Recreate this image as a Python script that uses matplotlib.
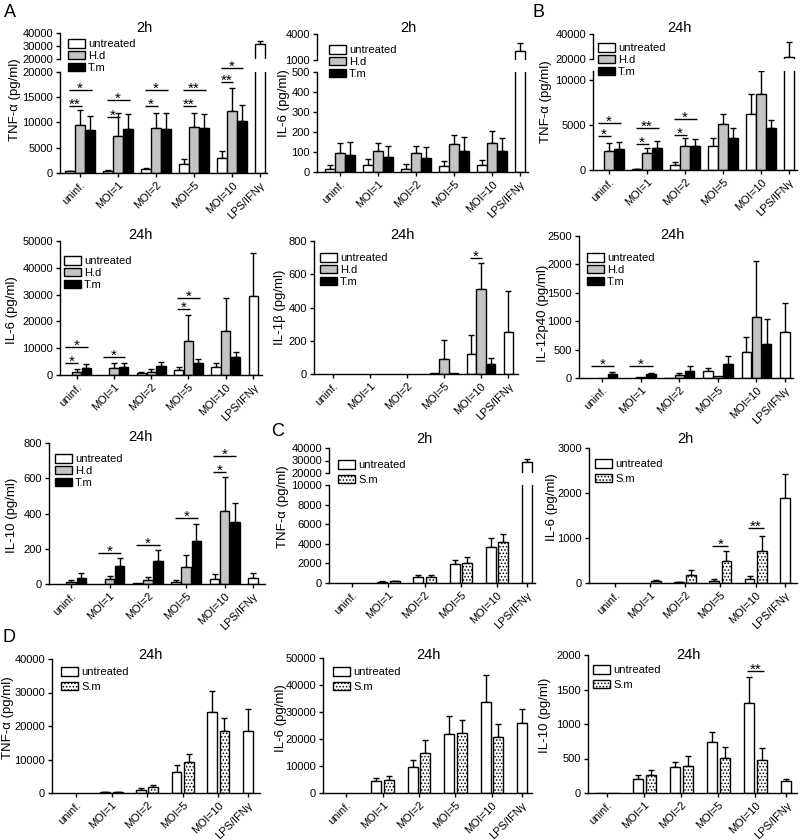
import numpy as np
import matplotlib.pyplot as plt
from matplotlib.patches import Patch

plt.rcParams.update({
    'font.family': ['Liberation Sans', 'DejaVu Sans'],
    'font.size': 8,
    'axes.linewidth': 1.0,
    'xtick.major.width': 1.0,
    'ytick.major.width': 1.0,
    'xtick.major.size': 3,
    'ytick.major.size': 3,
    'hatch.linewidth': 0.7,
})

groups = ['uninf.', 'MOI=1', 'MOI=2', 'MOI=5', 'MOI=10', 'LPS/IFNγ']

# ---- A: TNF-a 2h (H.d / T.m) ----
tnf2_unt = [300, 400, 730, 1720, 2970, 31500]
tnf2_unt_err = [100, 100, 300, 1050, 1400, 2500]
tnf2_hd = [9500, 7300, 8900, 9100, 12200]
tnf2_hd_err = [3000, 4600, 3000, 2850, 4700]
tnf2_tm = [8450, 8650, 8780, 8900, 10230]
tnf2_tm_err = [2800, 3000, 3100, 2700, 3170]
tnf2_sig = [(0, 1, 13200, '**'), (0, 2, 16400, '*'), (1, 1, 11100, '*'), (1, 2, 14500, '*'),
            (2, 1, 13200, '*'), (2, 2, 16400, '*'), (3, 1, 13200, '**'), (3, 2, 16400, '**'),
            (4, 1, 18000, '**'), (4, 2, 20700, '*')]

# ---- A: IL-6 2h ----
il6_2_unt = [15, 33, 17, 28, 33, 2050]
il6_2_unt_err = [18, 33, 23, 28, 28, 900]
il6_2_hd = [94, 106, 93, 139, 147]
il6_2_hd_err = [50, 38, 36, 46, 58]
il6_2_tm = [85, 76, 70, 103, 106]
il6_2_tm_err = [63, 56, 54, 74, 66]

# ---- B: TNF-a 24h ----
tnf24_unt = [0, 100, 560, 2670, 6190, 21600]
tnf24_unt_err = [0, 50, 290, 850, 2250, 12000]
tnf24_hd = [2110, 1850, 2700, 5110, 8440]
tnf24_hd_err = [900, 550, 890, 1110, 2560]
tnf24_tm = [2330, 2480, 2670, 3520, 4700]
tnf24_tm_err = [820, 780, 770, 1110, 860]
tnf24_sig = [(0, 1, 3780, '*'), (0, 2, 5190, '*'), (1, 1, 2850, '*'), (1, 2, 4700, '**'),
             (2, 1, 3890, '*'), (2, 2, 5670, '*')]

# ---- A: IL-6 24h ----
il6_24_unt = [0, 0, 870, 1860, 3100, 29400]
il6_24_unt_err = [0, 0, 370, 990, 1240, 16260]
il6_24_hd = [1240, 2730, 1240, 12780, 16500]
il6_24_hd_err = [1000, 1860, 870, 9550, 12400]
il6_24_tm = [2480, 3100, 3470, 4340, 6580]
il6_24_tm_err = [1500, 1500, 1490, 1620, 2110]
il6_24_sig = [(0, 1, 4340, '*'), (0, 2, 10300, '*'), (1, 2, 6820, '*'),
              (3, 1, 24570, '*'), (3, 2, 28780, '*')]

# ---- A: IL-1b 24h ----
il1b_unt = [0, 0, 0, 6, 120, 250]
il1b_unt_err = [0, 0, 0, 0, 112, 249]
il1b_hd = [0, 0, 0, 92, 513]
il1b_hd_err = [0, 0, 0, 114, 154]
il1b_tm = [0, 0, 0, 8, 60]
il1b_tm_err = [0, 0, 0, 0, 36]
il1b_sig = [(4, 1, 698, '*')]

# ---- B: IL-12p40 24h ----
il12_unt = [0, 0, 5, 117, 457, 808]
il12_unt_err = [0, 0, 0, 53, 263, 509]
il12_hd = [5, 10, 47, 35, 1071]
il12_hd_err = [0, 0, 41, 0, 990]
il12_tm = [65, 75, 129, 252, 597]
il12_tm_err = [40, 20, 76, 128, 445]
il12_sig = [(0, 2, 205, '*'), (1, 2, 205, '*')]

# ---- A: IL-10 24h ----
il10_unt = [0, 0, 3, 13, 28, 32]
il10_unt_err = [0, 0, 0, 10, 29, 32]
il10_hd = [12, 28, 23, 99, 415]
il10_hd_err = [8, 17, 19, 66, 190]
il10_tm = [36, 104, 133, 245, 353]
il10_tm_err = [25, 42, 60, 94, 108]
il10_sig = [(1, 2, 174, '*'), (2, 2, 222, '*'), (3, 2, 373, '*'), (4, 1, 635, '*'), (4, 2, 724, '*')]

# ---- C: TNF-a 2h (S.m) ----
sm_tnf2_unt = [0, 130, 610, 1900, 3700, 29000]
sm_tnf2_unt_err = [0, 60, 170, 470, 880, 2000]
sm_tnf2_sm = [0, 170, 610, 2030, 4170]
sm_tnf2_sm_err = [0, 60, 170, 580, 850]

# ---- C: IL-6 2h (S.m) ----
sm_il6_2_unt = [0, 0, 20, 52, 88, 1894]
sm_il6_2_unt_err = [0, 0, 5, 36, 59, 523]
sm_il6_2_sm = [0, 37, 184, 479, 715]
sm_il6_2_sm_err = [0, 22, 110, 236, 339]
sm_il6_2_sig = [(3, 1, 833, '*'), (4, 1, 1216, '**')]

# ---- D: TNF-a 24h (S.m) ----
sm_tnf24_unt = [0, 200, 1000, 6270, 24280, 18610]
sm_tnf24_unt_err = [0, 100, 390, 1990, 6270, 6460]
sm_tnf24_sm = [0, 200, 1790, 9250, 18610]
sm_tnf24_sm_err = [0, 100, 700, 2290, 3780]

# ---- D: IL-6 24h (S.m) ----
sm_il6_24_unt = [0, 4420, 9460, 21740, 33540, 26040]
sm_il6_24_unt_err = [0, 1110, 2580, 6880, 10070, 4920]
sm_il6_24_sm = [0, 4910, 14860, 22360, 20880]
sm_il6_24_sm_err = [0, 1230, 4800, 4790, 4550]

# ---- D: IL-10 24h (S.m) ----
sm_il10_unt = [5, 207, 376, 737, 1301, 178]
sm_il10_unt_err = [0, 58, 72, 145, 376, 29]
sm_il10_sm = [5, 255, 395, 501, 472]
sm_il10_sm_err = [0, 82, 135, 169, 174]
sm_il10_sig = [(4, 1, 1769, '**')]

STYLES = {
    'untreated': dict(facecolor='white', edgecolor='black'),
    'H.d': dict(facecolor='#c4c4c4', edgecolor='black'),
    'T.m': dict(facecolor='black', edgecolor='black'),
    'S.m': dict(facecolor='white', edgecolor='black', hatch='.....'),
}

W, H = 800, 840
fig = plt.figure(figsize=(W / 100, H / 100), dpi=100)


def px_axes(left, right, top, bottom):
    ax = fig.add_axes([left / W, 1 - bottom / H, (right - left) / W, (bottom - top) / H])
    ax.set_facecolor('none')
    for s in ('top', 'right'):
        ax.spines[s].set_visible(False)
    ax.tick_params(direction='out', labelsize=8, pad=2)
    return ax


def bar_positions(nbars, gap):
    pos, x = [], 0.0
    for g in range(len(groups)):
        n = nbars if g < len(groups) - 1 else 1
        pos.append([x + i for i in range(n)])
        x += n + gap
    return pos


def draw_bars(ax, pos, series, width):
    for k, (vals, errs, key) in enumerate(series):
        for g, (v, e) in enumerate(zip(vals, errs)):
            if v == 0:
                continue
            x = pos[g][k]
            ax.bar(x, v, width=width, linewidth=1.0, zorder=2, **STYLES[key])
            if e > 0:
                ax.errorbar(x, v, yerr=[[0], [e]], fmt='none', ecolor='black',
                            elinewidth=1.0, capsize=2.5, capthick=1.0, zorder=1)


def draw_sig(ax, pos, sig):
    for g, k, y, lab in sig:
        x0 = pos[g][0] - 0.15
        x1 = pos[g][k] + 0.15
        ax.plot([x0, x1], [y, y], color='black', lw=1.0, clip_on=False,
                solid_capstyle='butt', zorder=3)
        ax.annotate(lab, ((x0 + x1) / 2, y), xytext=(0, -2.0), textcoords='offset points',
                    ha='center', va='baseline', fontsize=11, annotation_clip=False)


def panel(box, lower, series, ylim, yticks, title, ylabel, legend_xy, nbars,
          upper=None, uylim=None, uyticks=None, sig=(), spacing=0.15):
    left, right, padl, padr = box
    gap = 0.8 if nbars == 3 else 0.9
    width = 0.95 if nbars == 3 else 0.8
    pos = bar_positions(nbars, gap)
    centers = [np.mean(p) for p in pos]
    xlim = (-padl, pos[-1][-1] + padr)

    ax = px_axes(left, right, *lower)
    draw_bars(ax, pos, series, width)
    ax.set_xlim(*xlim)
    ax.set_ylim(*ylim)
    ax.set_yticks(yticks)
    ax.set_yticklabels([str(t) for t in yticks])
    ax.set_xticks(centers)
    ax.set_xticklabels(groups, rotation=45, ha='right', rotation_mode='anchor', fontsize=8)
    draw_sig(ax, pos, sig)

    if upper is not None:
        axu = px_axes(left, right, *upper)
        draw_bars(axu, pos, series, width)
        axu.set_xlim(*xlim)
        axu.set_ylim(*uylim)
        axu.set_yticks(uyticks)
        axu.set_yticklabels([str(t) for t in uyticks])
        axu.spines['bottom'].set_visible(False)
        axu.set_xticks([])

    handles = [Patch(linewidth=1.0, **STYLES[key]) for _, _, key in series]
    labels = [key for _, _, key in series]
    ax.legend(handles, labels, loc='upper left',
              bbox_to_anchor=(legend_xy[0] / W, 1 - legend_xy[1] / H),
              bbox_transform=fig.transFigure, frameon=False, borderpad=0,
              borderaxespad=0, handlelength=1.5, handleheight=0.8,
              handletextpad=0.3, labelspacing=spacing, fontsize=8)

    fig.text(title[1] / W, 1 - title[2] / H, title[0], ha='center', va='center', fontsize=10.5)
    fig.text(ylabel[1] / W, 1 - ylabel[2] / H, ylabel[0], rotation=90,
             ha='center', va='center', fontsize=9.5)


# Row 1
panel((60, 267, 1.0, 0.7), (72, 173),
      [(tnf2_unt, tnf2_unt_err, 'untreated'), (tnf2_hd, tnf2_hd_err, 'H.d'), (tnf2_tm, tnf2_tm_err, 'T.m')],
      (0, 20000), [0, 5000, 10000, 15000, 20000], ('2h', 144, 28), ('TNF-α (pg/ml)', 15, 100),
      (68, 39), 3, upper=(33, 59), uylim=(20000, 40000), uyticks=[20000, 30000, 40000], sig=tnf2_sig)
panel((317, 528, 1.3, 0.8), (72, 172),
      [(il6_2_unt, il6_2_unt_err, 'untreated'), (il6_2_hd, il6_2_hd_err, 'H.d'), (il6_2_tm, il6_2_tm_err, 'T.m')],
      (0, 500), [0, 100, 200, 300, 400, 500], ('2h', 408, 28), ('IL-6 (pg/ml)', 284, 103),
      (329, 45), 3, upper=(34, 60), uylim=(1000, 4000), uyticks=[1000, 4000])
panel((593, 797, 0.6, 0.8), (71, 170),
      [(tnf24_unt, tnf24_unt_err, 'untreated'), (tnf24_hd, tnf24_hd_err, 'H.d'), (tnf24_tm, tnf24_tm_err, 'T.m')],
      (0, 11000), [0, 5000, 10000], ('24h', 679, 28), ('TNF-α (pg/ml)', 546, 102),
      (598, 43), 3, upper=(34, 59), uylim=(20000, 40000), uyticks=[20000, 40000], sig=tnf24_sig)

# Row 2
panel((60, 262, 0.7, 0.9), (241, 375),
      [(il6_24_unt, il6_24_unt_err, 'untreated'), (il6_24_hd, il6_24_hd_err, 'H.d'), (il6_24_tm, il6_24_tm_err, 'T.m')],
      (0, 50000), [0, 10000, 20000, 30000, 40000, 50000], ('24h', 140, 235), ('IL-6 (pg/ml)', 12, 310),
      (64, 256), 3, sig=il6_24_sig)
panel((314, 518, 0.93, 1.0), (241, 374),
      [(il1b_unt, il1b_unt_err, 'untreated'), (il1b_hd, il1b_hd_err, 'H.d'), (il1b_tm, il1b_tm_err, 'T.m')],
      (0, 800), [0, 200, 400, 600, 800], ('24h', 402, 235), ('IL-1β (pg/ml)', 280, 307),
      (320, 253), 3, sig=il1b_sig)
panel((579, 793, 1.3, 0.8), (236, 378),
      [(il12_unt, il12_unt_err, 'untreated'), (il12_hd, il12_hd_err, 'H.d'), (il12_tm, il12_tm_err, 'T.m')],
      (0, 2500), [0, 500, 1000, 1500, 2000, 2500], ('24h', 672, 235), ('IL-12p40 (pg/ml)', 543, 313),
      (587, 253), 3, sig=il12_sig)

# Row 3
panel((49, 265, 1.2, 1.2), (443, 584),
      [(il10_unt, il10_unt_err, 'untreated'), (il10_hd, il10_hd_err, 'H.d'), (il10_tm, il10_tm_err, 'T.m')],
      (0, 800), [0, 200, 400, 600, 800], ('24h', 140, 437), ('IL-10 (pg/ml)', 12, 515),
      (55, 454), 3, sig=il10_sig)
panel((329, 535, 1.36, 0.65), (485, 583),
      [(sm_tnf2_unt, sm_tnf2_unt_err, 'untreated'), (sm_tnf2_sm, sm_tnf2_sm_err, 'S.m')],
      (0, 10000), [0, 2000, 4000, 6000, 8000, 10000], ('2h', 424, 439), ('TNF-α (pg/ml)', 283, 507),
      (338, 460), 2, upper=(448, 473), uylim=(20000, 40000), uyticks=[20000, 30000, 40000], spacing=0.4)
panel((589, 797, 1.6, 1.0), (448, 583),
      [(sm_il6_2_unt, sm_il6_2_unt_err, 'untreated'), (sm_il6_2_sm, sm_il6_2_sm_err, 'S.m')],
      (0, 3000), [0, 1000, 2000, 3000], ('2h', 685, 439), ('IL-6 (pg/ml)', 552, 507),
      (595, 459), 2, sig=sm_il6_2_sig, spacing=0.4)

# Row 4
panel((52, 260, 1.45, 1.0), (659, 793),
      [(sm_tnf24_unt, sm_tnf24_unt_err, 'untreated'), (sm_tnf24_sm, sm_tnf24_sm_err, 'S.m')],
      (0, 40000), [0, 10000, 20000, 30000, 40000], ('24h', 150, 655), ('TNF-α (pg/ml)', 8, 718),
      (61, 667), 2, spacing=0.4)
panel((323, 532, 1.36, 0.8), (658, 793),
      [(sm_il6_24_unt, sm_il6_24_unt_err, 'untreated'), (sm_il6_24_sm, sm_il6_24_sm_err, 'S.m')],
      (0, 50000), [0, 10000, 20000, 30000, 40000, 50000], ('24h', 428, 655), ('IL-6 (pg/ml)', 281, 718),
      (333, 667), 2, spacing=0.4)
panel((588, 797, 1.0, 0.85), (655, 793),
      [(sm_il10_unt, sm_il10_unt_err, 'untreated'), (sm_il10_sm, sm_il10_sm_err, 'S.m')],
      (0, 2000), [0, 500, 1000, 1500, 2000], ('24h', 688, 655), ('IL-10 (pg/ml)', 545, 715),
      (593, 665), 2, sig=sm_il10_sig, spacing=0.4)

# panel letters
for letter, x, y in [('A', 4, 4), ('B', 532, 4), ('C', 271, 423), ('D', 2, 629)]:
    fig.text(x / W, 1 - y / H, letter, ha='left', va='top', fontsize=13)

fig.savefig('out.png', dpi=100)
